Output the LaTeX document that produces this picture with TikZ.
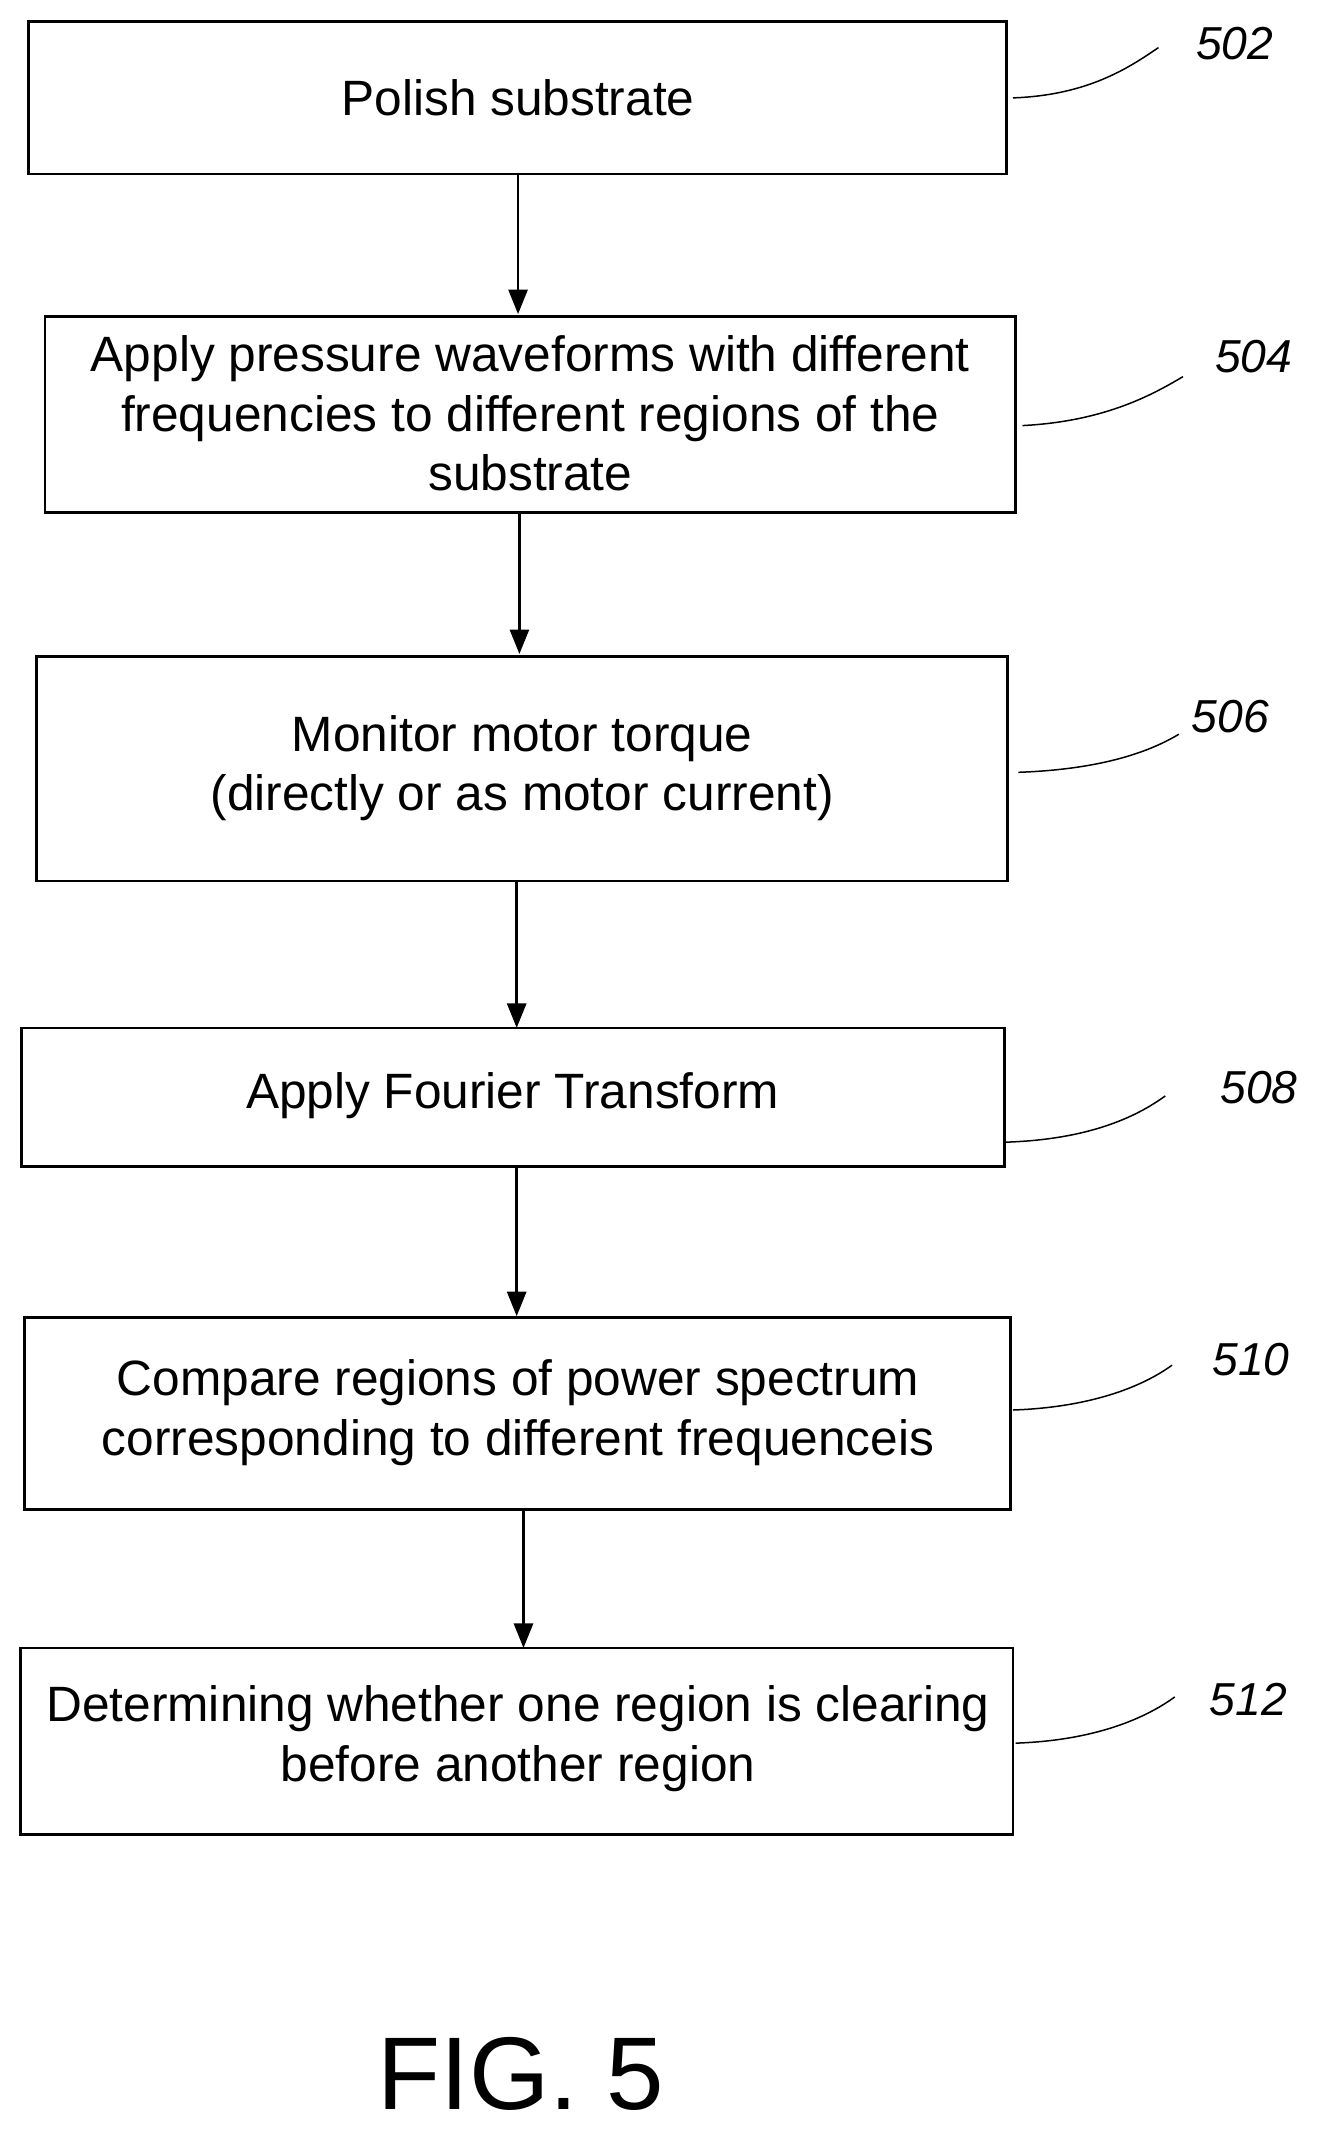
\documentclass[tikz,border=0pt]{standalone}
\usepackage{fontspec}
\setmainfont{Liberation Sans}
\usetikzlibrary{arrows.meta}
\begin{document}
\begin{tikzpicture}[x=1pt,y=-1pt,
  box/.style={draw,line width=2pt},
  txt/.style={font=\fontsize{36.5}{44}\selectfont,align=center,inner sep=0pt},
  lbl/.style={font=\fontsize{34}{40}\selectfont\itshape,inner sep=0pt},
  arr/.style={line width=2pt,-{Triangle[length=18pt,width=14pt]}},
  lead/.style={line width=1.1pt}]
\useasboundingbox (0,0) rectangle (970,1568);
\draw[box] (21,16) rectangle (740,128);
\node[txt] (t502) at (381,72) {Polish substrate};
\draw[box] (33,233) rectangle (747,377);
\node[txt] (t504) at (390,304) {Apply pressure waveforms with different\\frequencies to different regions of the\\substrate};
\draw[box] (27,483) rectangle (741,648);
\node[txt] (t506) at (384,565) {Monitor motor torque\\(directly or as motor current)};
\draw[box] (16,756) rectangle (739,858);
\node[txt] (t508) at (377,806) {Apply Fourier Transform};
\draw[box] (18,969) rectangle (743,1110);
\node[txt] (t510) at (381,1039) {Compare regions of power spectrum\\corresponding to different frequenceis};
\draw[box] (15,1212) rectangle (745,1349);
\node[txt] (t512) at (381,1279) {Determining whether one region is clearing\\before another region};
\coordinate (a1) at (381,128); \coordinate (b1) at (381,231);
\coordinate (a2) at (382,377); \coordinate (b2) at (382,481);
\coordinate (a3) at (380,648); \coordinate (b3) at (380,756);
\coordinate (a4) at (380,858); \coordinate (b4) at (380,968);
\coordinate (a5) at (385,1110); \coordinate (b5) at (385,1212);
\foreach \i in {1,...,5} \draw[arr] (a\i) -- (b\i);
\node[lbl] (l502) at (908,32) {502};
\node[lbl] (l504) at (922,262) {504};
\node[lbl] (l506) at (905,527) {506};
\node[lbl] (l508) at (926,800) {508};
\node[lbl] (l510) at (920,1000) {510};
\node[lbl] (l512) at (918,1250) {512};
\draw[lead] (745,72) .. controls (800,70) and (830,50) .. (852,35);
\draw[lead] (752,313) .. controls (810,310) and (845,292) .. (870,277);
\draw[lead] (749,568) .. controls (805,566) and (842,555) .. (867,540);
\draw[lead] (740,840) .. controls (800,838) and (835,822) .. (857,806);
\draw[lead] (745,1037) .. controls (802,1035) and (840,1020) .. (862,1004);
\draw[lead] (747,1282) .. controls (805,1280) and (842,1264) .. (864,1248);
\node[inner sep=0pt,font=\fontsize{76}{80}\selectfont] (fig) at (383,1525) {FIG. 5};
\end{tikzpicture}
\end{document}
